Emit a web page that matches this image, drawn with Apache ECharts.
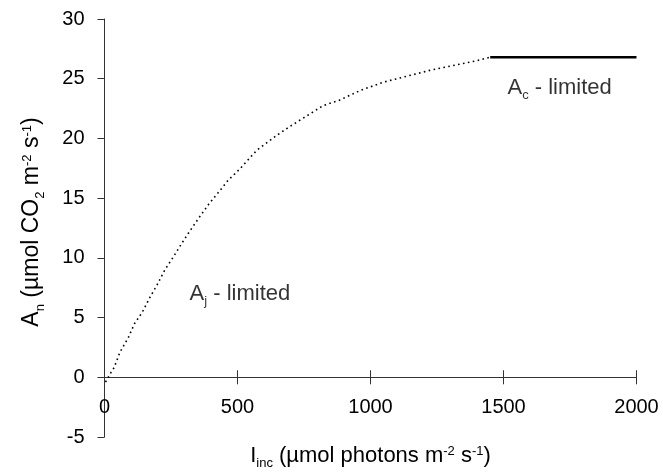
<!DOCTYPE html>
<html>
<head>
<meta charset="utf-8">
<script src="https://cdn.jsdelivr.net/npm/echarts@6/dist/echarts.min.js"></script>
<style>
html,body{margin:0;padding:0;background:#fff;}
#c{width:663px;height:475px;}
</style>
</head>
<body>
<div id="c"></div>
<script>
// Aj-limited (dotted) curve
var ajX = [4, 23, 36, 58, 89, 113, 142, 171, 198, 227, 258, 290, 324, 355, 392, 427, 465, 509, 572, 647, 697, 772, 822, 883, 960, 1047, 1135, 1223, 1310, 1398, 1450];
var ajY = [-0.4, 0.35, 0.8, 2.1, 3.3, 4.5, 5.45, 6.7, 7.75, 9.0, 10.05, 11.2, 12.35, 13.35, 14.5, 15.45, 16.5, 17.45, 19.0, 20.25, 21.0, 22.05, 22.75, 23.2, 24.0, 24.7, 25.2, 25.7, 26.1, 26.5, 26.8];
// Ac-limited (solid) plateau
var acX = [1450, 2000];
var acY = [26.8, 26.8];
// annotations
var noteX = [509, 1711];
var noteY = [6.87, 24.1];
var noteText = ['{m|A}{sub|j}{m| - limited}', '{m|A}{sub|c}{m| - limited}'];
// axis ticks
var xTicks = [0, 500, 1000, 1500, 2000];
var yTicks = [-5, 0, 5, 10, 15, 20, 25, 30];

var FONT = '"Liberation Sans", Arial, sans-serif';
var AX = '#333333';
function makeRich(size) {
  return {
    m: {fontFamily: FONT, fontSize: size, lineHeight: size + 3, verticalAlign: 'top', color: '#000'},
    sub: {fontFamily: FONT, fontSize: 13, lineHeight: 13, verticalAlign: 'top', padding: [Math.round(size / 2) + 1, 0, 0, 0], color: '#000'},
    sup: {fontFamily: FONT, fontSize: 13, lineHeight: 13, verticalAlign: 'top', padding: [0, 0, 0, 0], color: '#000'}
  };
}

function zip(a, b) { return a.map(function (v, i) { return [v, b[i]]; }); }

var chart = echarts.init(document.getElementById('c'), null, {renderer: 'canvas'});
chart.setOption({
  animation: false,
  backgroundColor: '#fff',
  grid: {left: 104.5, right: 26.5, top: 19, bottom: 38, containLabel: false, outerBoundsMode: 'none'},
  xAxis: [{
    type: 'value',
    min: xTicks[0], max: xTicks[xTicks.length - 1], interval: 500,
    position: 'bottom',
    axisLine: {show: true, onZero: true, onZeroAxisIndex: 0, lineStyle: {color: AX, width: 1}},
    axisTick: {show: true, length: 7, lineStyle: {color: AX}},
    axisLabel: {show: true, margin: -40, fontFamily: FONT, fontSize: 20, color: '#000',
      formatter: function (v) { return String(v); }},
    splitLine: {show: false},
    name: '{m|I}{sub|inc}{m| (µmol photons m}{sup|-2}{m| s}{sup|-1}{m|)}',
    nameLocation: 'middle',
    nameGap: 8,
    nameTextStyle: {rich: makeRich(22)}
  }, {
    type: 'value',
    min: xTicks[0], max: xTicks[xTicks.length - 1], interval: 500,
    position: 'top',
    axisLine: {show: true, onZero: true, onZeroAxisIndex: 1, lineStyle: {color: AX, width: 1}},
    axisTick: {show: true, inside: false, length: 7, lineStyle: {color: AX}},
    axisLabel: {show: false},
    splitLine: {show: false}
  }],
  yAxis: [{
    type: 'value',
    min: yTicks[0], max: yTicks[yTicks.length - 1], interval: 5,
    axisLine: {show: true, onZero: false, lineStyle: {color: AX, width: 1}},
    axisTick: {show: true, length: 7, lineStyle: {color: AX}},
    axisLabel: {show: true, margin: 20, fontFamily: FONT, fontSize: 20, color: '#000'},
    splitLine: {show: false},
    name: '{m|A}{sub|n}{m| (µmol CO}{sub|2}{m| m}{sup|-2}{m| s}{sup|-1}{m|)}',
    nameLocation: 'middle',
    nameRotate: 90,
    nameGap: 58,
    nameTextStyle: {rich: makeRich(23), padding: [0, 0, 0, 12]}
  }, {
    type: 'value',
    min: yTicks[0], max: yTicks[yTicks.length - 1], interval: 5,
    position: 'left',
    axisLine: {show: false, onZero: false},
    axisTick: {show: false},
    axisLabel: {show: false},
    splitLine: {show: false}
  }],
  series: [{
    type: 'line',
    data: zip(ajX, ajY),
    showSymbol: false,
    smooth: false,
    lineStyle: {color: '#000', width: 1.6, type: [1.6, 3.4]},
    z: 3
  }, {
    type: 'line',
    data: zip(acX, acY),
    showSymbol: false,
    lineStyle: {color: '#000', width: 2.5, type: 'solid'},
    z: 3
  }, {
    type: 'scatter',
    data: noteX.map(function (v, i) { return {value: [v, noteY[i]], label: {formatter: noteText[i]}}; }),
    symbolSize: 1,
    itemStyle: {color: 'rgba(0,0,0,0)'},
    label: {show: true, position: 'inside', rich: makeRich(22)},
    silent: true,
    z: 4
  }]
});
</script>
</body>
</html>
